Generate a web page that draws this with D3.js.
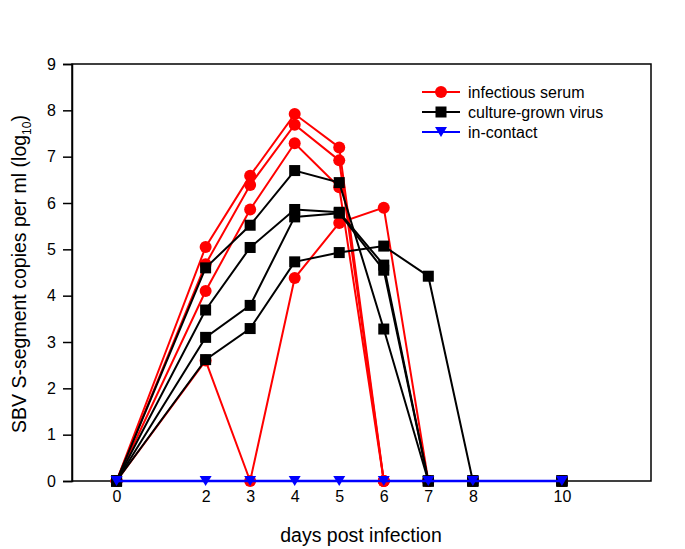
<!DOCTYPE html>
<html><head><meta charset="utf-8">
<script src="https://cdn.jsdelivr.net/npm/d3@7"></script>
<style>
body{margin:0;background:#fff;}
text{font-family:"Liberation Sans",Arial,sans-serif;}
</style></head>
<body><svg id="c" width="685" height="549"></svg>
<script>
const days = [0,2,3,4,5,6,7,8,10];
const xTicks = [0,2,3,4,5,6,7,8,10];
const yTicks = [0,1,2,3,4,5,6,7,8,9];
const serum1 = [0,5.05,6.59,7.92,7.20,0,0,0,0];
const serum2 = [0,4.68,6.39,7.69,6.92,0,0,0,0];
const serum3 = [0,4.10,5.86,7.29,6.34,0,0,0,0];
const serum4 = [0,2.60,0,4.38,5.57,5.90,0,0,0];
const culture1 = [0,4.60,5.52,6.70,6.44,3.28,0,0,0];
const culture2 = [0,3.69,5.04,5.86,5.80,4.66,0,0,0];
const culture3 = [0,3.10,3.79,5.70,5.78,4.55,0,0,0];
const culture4 = [0,2.62,3.29,4.73,4.93,5.07,4.42,0,0];
const contact = [0,0,0,0,0,0,0,0,0];
const legendLabels = ["infectious serum","culture-grown virus","in-contact"];

const svg = d3.select("#c");
const L=72, R=651, T=64, B=481;
const x = d3.scaleLinear().domain([-1,12]).range([L,R]);
const y = d3.scaleLinear().domain([0,9]).range([B,T]);

// frame
svg.append("rect").attr("x",L).attr("y",T).attr("width",R-L).attr("height",B-T)
  .attr("fill","none").attr("stroke","#000").attr("stroke-width",1.5);

// y axis
const ya = svg.append("g").attr("transform",`translate(${L},0)`)
  .call(d3.axisLeft(y).tickValues(yTicks).tickSize(9).tickPadding(7).tickFormat(d3.format("d")));
ya.attr("font-size",16).attr("font-family","Liberation Sans, Arial, sans-serif");
ya.select(".domain").attr("stroke-width",1.5);
ya.selectAll(".tick line").attr("stroke-width",1.5);
ya.selectAll("text").style("font-size","16px").attr("fill","#000");

// x axis labels
const xa = svg.append("g").attr("transform",`translate(0,${B})`)
  .call(d3.axisBottom(x).tickValues(xTicks).tickSize(0).tickPadding(10).tickFormat(d3.format("d")));
xa.attr("font-size",16).attr("font-family","Liberation Sans, Arial, sans-serif");
xa.select(".domain").remove();
xa.selectAll("text").style("font-size","16px").attr("fill","#000");

// axis titles
svg.append("text").attr("x",361).attr("y",542).attr("text-anchor","middle")
  .style("font-size","19.5px").text("days post infection");
const yt = svg.append("text").attr("transform","translate(26,274) rotate(-90)")
  .attr("text-anchor","middle").style("font-size","19.5px");
yt.append("tspan").text("SBV S-segment copies per ml (log");
yt.append("tspan").style("font-size","12px").attr("dy",5).text("10");
yt.append("tspan").attr("dy",-5).text(")");

const line = d3.line().x((d,i)=>x(days[i])).y(d=>y(d));
const plot = svg.append("g");

function drawSeries(vals, color, shape, w){
  plot.append("path").attr("d",line(vals)).attr("fill","none").attr("stroke",color).attr("stroke-width",w);
  const g = plot.append("g");
  vals.forEach((v,i)=>{
    drawMarker(g, x(days[i]), y(v), color, shape);
  });
}
function drawMarker(g, cx, cy, color, shape){
  if(shape==="circle") g.append("circle").attr("cx",cx).attr("cy",cy).attr("r",6).attr("fill",color);
  else if(shape==="square") g.append("rect").attr("x",cx-5.5).attr("y",cy-5.5).attr("width",11).attr("height",11).attr("fill",color);
  else g.append("path").attr("d",`M${cx-6},${cy-5}L${cx+6},${cy-5}L${cx},${cy+5}Z`).attr("fill",color);
}
[serum1,serum2,serum3,serum4].forEach(s=>drawSeries(s,"#ff0000","circle",2));
[culture1,culture2,culture3,culture4].forEach(s=>drawSeries(s,"#000000","square",2));
drawSeries(contact,"#0000ff","tri",2.5);

// legend
const lg = svg.append("g");
const lcol = ["#ff0000","#000000","#0000ff"], lsh=["circle","square","tri"];
legendLabels.forEach((t,i)=>{
  const ly = 92 + i*20;
  lg.append("line").attr("x1",422).attr("x2",460).attr("y1",ly).attr("y2",ly).attr("stroke",lcol[i]).attr("stroke-width",2);
  drawMarker(lg,441,ly,lcol[i],lsh[i]);
  lg.append("text").attr("x",468).attr("y",ly+6).style("font-size","16px").text(t);
});
</script></body></html>
